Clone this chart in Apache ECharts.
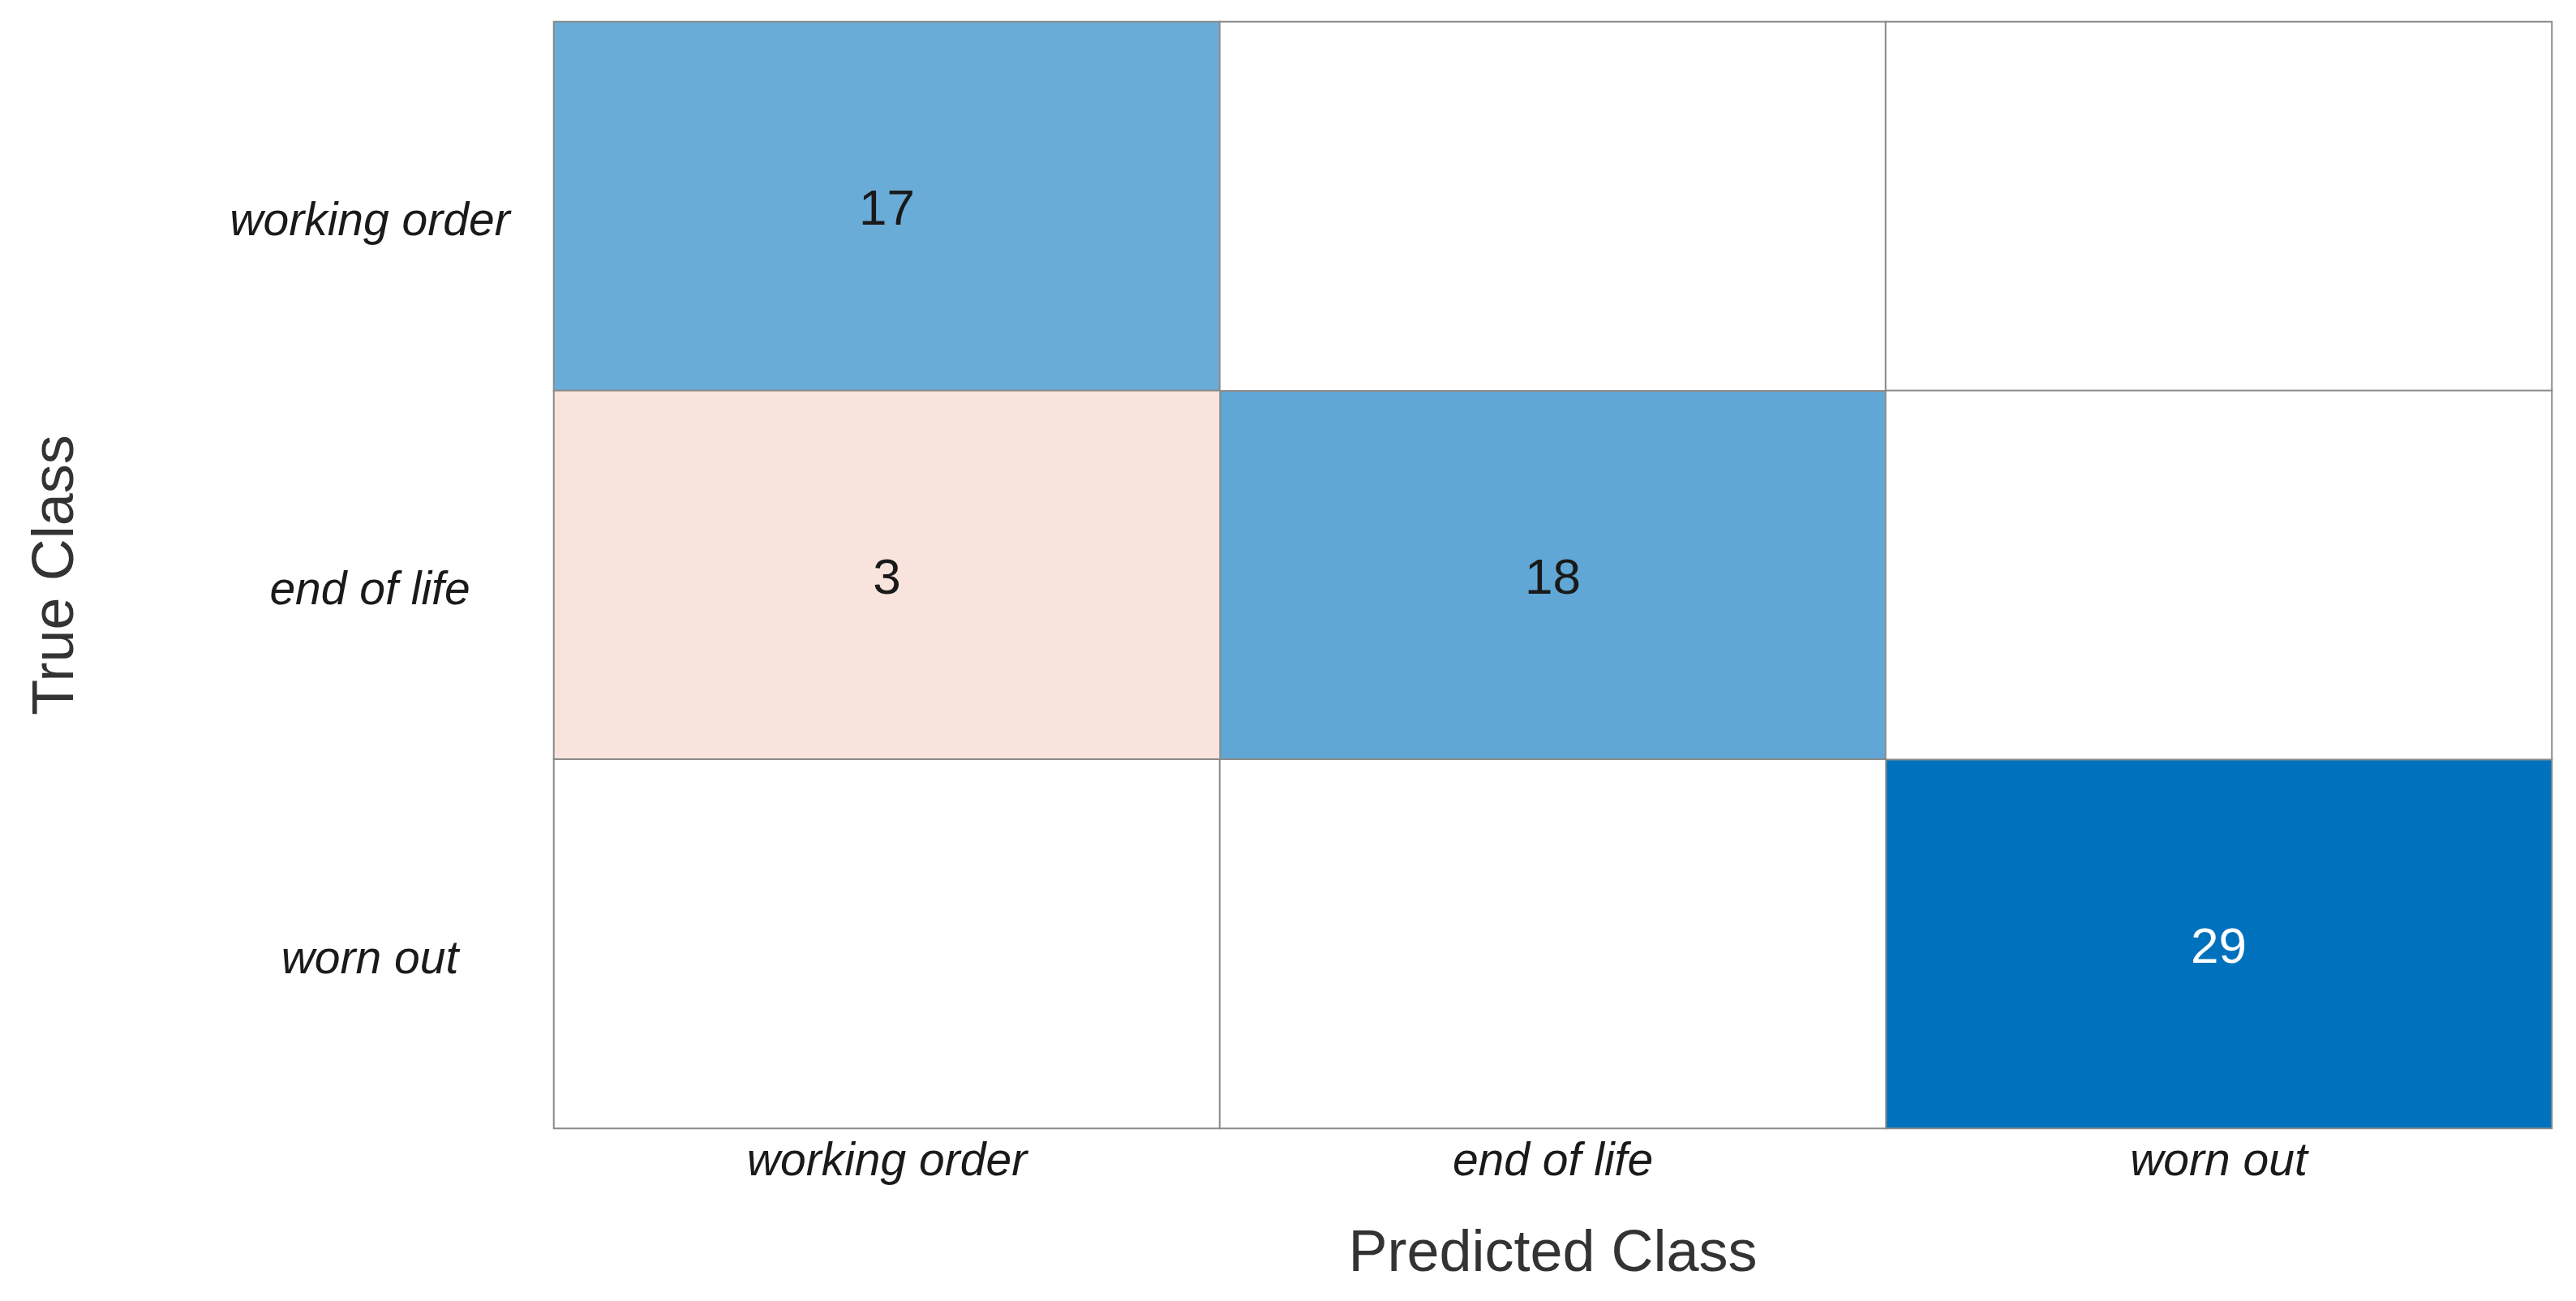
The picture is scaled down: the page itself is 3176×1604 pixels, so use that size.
<!DOCTYPE html>
<html>
<head>
<meta charset="utf-8">
<script src="https://cdn.jsdelivr.net/npm/echarts@6/dist/echarts.min.js"></script>
<style>
html,body{margin:0;padding:0;background:#fff;}
#chart{width:3176px;height:1604px;}
</style>
</head>
<body>
<div id="chart"></div>
<script>
// Class names (same order for true and predicted)
const predictedClasses = ['working order', 'end of life', 'worn out'];
const trueClasses = ['working order', 'end of life', 'worn out'];
// Confusion counts: rows = true class, columns = predicted class
const rowWorkingOrder = [17, 0, 0];
const rowEndOfLife = [3, 18, 0];
const rowWornOut = [0, 0, 29];
const counts = [rowWorkingOrder, rowEndOfLife, rowWornOut];
const xTitle = 'Predicted Class';
const yTitle = 'True Class';

const maxCount = Math.max(...counts.flat());
const diagData = [];
const offData = [];
counts.forEach((row, r) => {
  row.forEach((v, c) => {
    if (r === c) {
      diagData.push({
        value: [c, r, v],
        label: { color: (v / maxCount > 0.8) ? '#ffffff' : '#1a1a1a' }
      });
    } else {
      offData.push({ value: [c, r, v] });
    }
  });
});

const font = '"Liberation Sans", Arial, Helvetica, sans-serif';
const chart = echarts.init(document.getElementById('chart'), null, { renderer: 'canvas' });
chart.setOption({
  backgroundColor: '#ffffff',
  animation: false,
  grid: { left: 683, top: 27, right: 30, bottom: 213, containLabel: false },
  xAxis: {
    type: 'category',
    data: predictedClasses,
    position: 'bottom',
    name: xTitle,
    nameLocation: 'middle',
    nameGap: 120,
    nameTextStyle: { fontFamily: font, fontSize: 72, color: '#333333' },
    axisLine: { show: false },
    axisTick: { show: false },
    splitLine: { show: false },
    axisLabel: { fontFamily: font, fontStyle: 'italic', fontSize: 57, color: '#1a1a1a', margin: 14 }
  },
  yAxis: {
    type: 'category',
    data: trueClasses,
    inverse: true,
    name: yTitle,
    nameLocation: 'middle',
    nameGap: 577,
    nameTextStyle: { fontFamily: font, fontSize: 72, color: '#333333' },
    axisLine: { show: false },
    axisTick: { show: false },
    splitLine: { show: false },
    axisLabel: { fontFamily: font, fontStyle: 'italic', fontSize: 57, color: '#1a1a1a', margin: 227, align: 'center', verticalAlign: 'top', lineHeight: 40 }
  },
  visualMap: [
    { show: false, seriesIndex: 0, min: 0, max: maxCount, dimension: 2, inRange: { color: ['#ffffff', '#0072BD'] } },
    { show: false, seriesIndex: 1, min: 0, max: 3, dimension: 2, inRange: { color: ['#ffffff', '#F8E4DC'] } }
  ],
  series: [
    {
      type: 'heatmap',
      data: diagData,
      itemStyle: { borderColor: '#8a8a8a', borderWidth: 2 },
      label: { show: true, fontFamily: font, fontSize: 62, offset: [0, 6], formatter: p => String(p.value[2]) },
      emphasis: { disabled: true }
    },
    {
      type: 'heatmap',
      data: offData,
      itemStyle: { borderColor: '#8a8a8a', borderWidth: 2 },
      label: { show: true, fontFamily: font, fontSize: 62, offset: [0, 6], color: '#1a1a1a', formatter: p => p.value[2] ? String(p.value[2]) : '' },
      emphasis: { disabled: true }
    }
  ]
});
</script>
</body>
</html>
